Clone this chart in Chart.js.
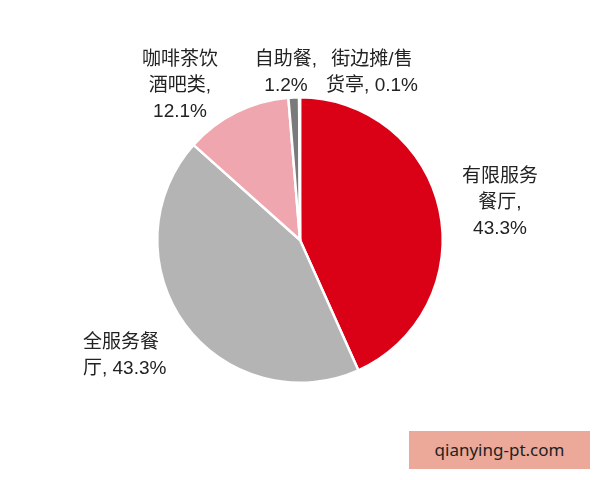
<!DOCTYPE html>
<html>
<head>
<meta charset="utf-8">
<script src="https://cdn.jsdelivr.net/npm/chart.js@4/dist/chart.umd.min.js"></script>
<style>
  body { margin: 0; background: #fff; }
  #wrap { position: relative; width: 600px; height: 480px; }
  .mark {
    position: absolute; left: 409px; top: 431px; width: 181px; height: 38px;
    background: #eca898; color: #222; font: 17px "Noto Sans", "DejaVu Sans", sans-serif;
    line-height: 38px; text-align: center;
  }
</style>
</head>
<body>
<div id="wrap">
  <canvas id="pie" width="600" height="480"></canvas>
  <div class="mark">qianying-pt.com</div>
</div>
<script>
// 各类餐厅占比 (%)
const categories = ['有限服务餐厅', '全服务餐厅', '咖啡茶饮酒吧类', '自助餐', '街边摊/售货亭'];
const shares = [43.3, 43.3, 12.1, 1.2, 0.1];
const sliceColors = ['#da0016', '#b4b4b4', '#f0a6ae', '#7a7a7a', '#222222'];

// 标签文字 (按行)
const labelLines = [
  ['有限服务', '餐厅,', '43.3%'],
  ['全服务餐', '厅, 43.3%'],
  ['咖啡茶饮', '酒吧类,', '12.1%'],
  ['自助餐,', '1.2%'],
  ['街边摊/售', '货亭, 0.1%']
];
// 标签相对饼心的位置 (第一行)
const labelSpots = [
  { dx: 200, dy: -63, align: 'center' },
  { dx: -217, dy: 103, align: 'left' },
  { dx: -120, dy: -180, align: 'center' },
  { dx: -14, dy: -180, align: 'center' },
  { dx: 72, dy: -180, align: 'center' }
];

const labelPlugin = {
  id: 'pieLabels',
  afterDraw(chart) {
    const arc = chart.getDatasetMeta(0).data[0];
    const ctx = chart.ctx;
    ctx.save();
    ctx.fillStyle = '#222';
    ctx.font = '19px "Liberation Sans", "Noto Sans CJK SC", sans-serif';
    ctx.textBaseline = 'middle';
    labelLines.forEach((lines, i) => {
      const spot = labelSpots[i];
      ctx.textAlign = spot.align;
      lines.forEach((t, k) => {
        ctx.fillText(t, arc.x + spot.dx, arc.y + spot.dy + k * 26);
      });
    });
    ctx.restore();
  }
};

new Chart(document.getElementById('pie'), {
  type: 'pie',
  data: {
    labels: categories,
    datasets: [{
      data: shares,
      backgroundColor: sliceColors,
      borderColor: '#fff',
      borderWidth: 2.5
    }]
  },
  options: {
    responsive: false,
    animation: false,
    devicePixelRatio: 1,
    layout: { padding: { top: 96, bottom: 96 } },
    plugins: {
      legend: { display: false },
      tooltip: { enabled: false }
    }
  },
  plugins: [labelPlugin]
});
</script>
</body>
</html>
